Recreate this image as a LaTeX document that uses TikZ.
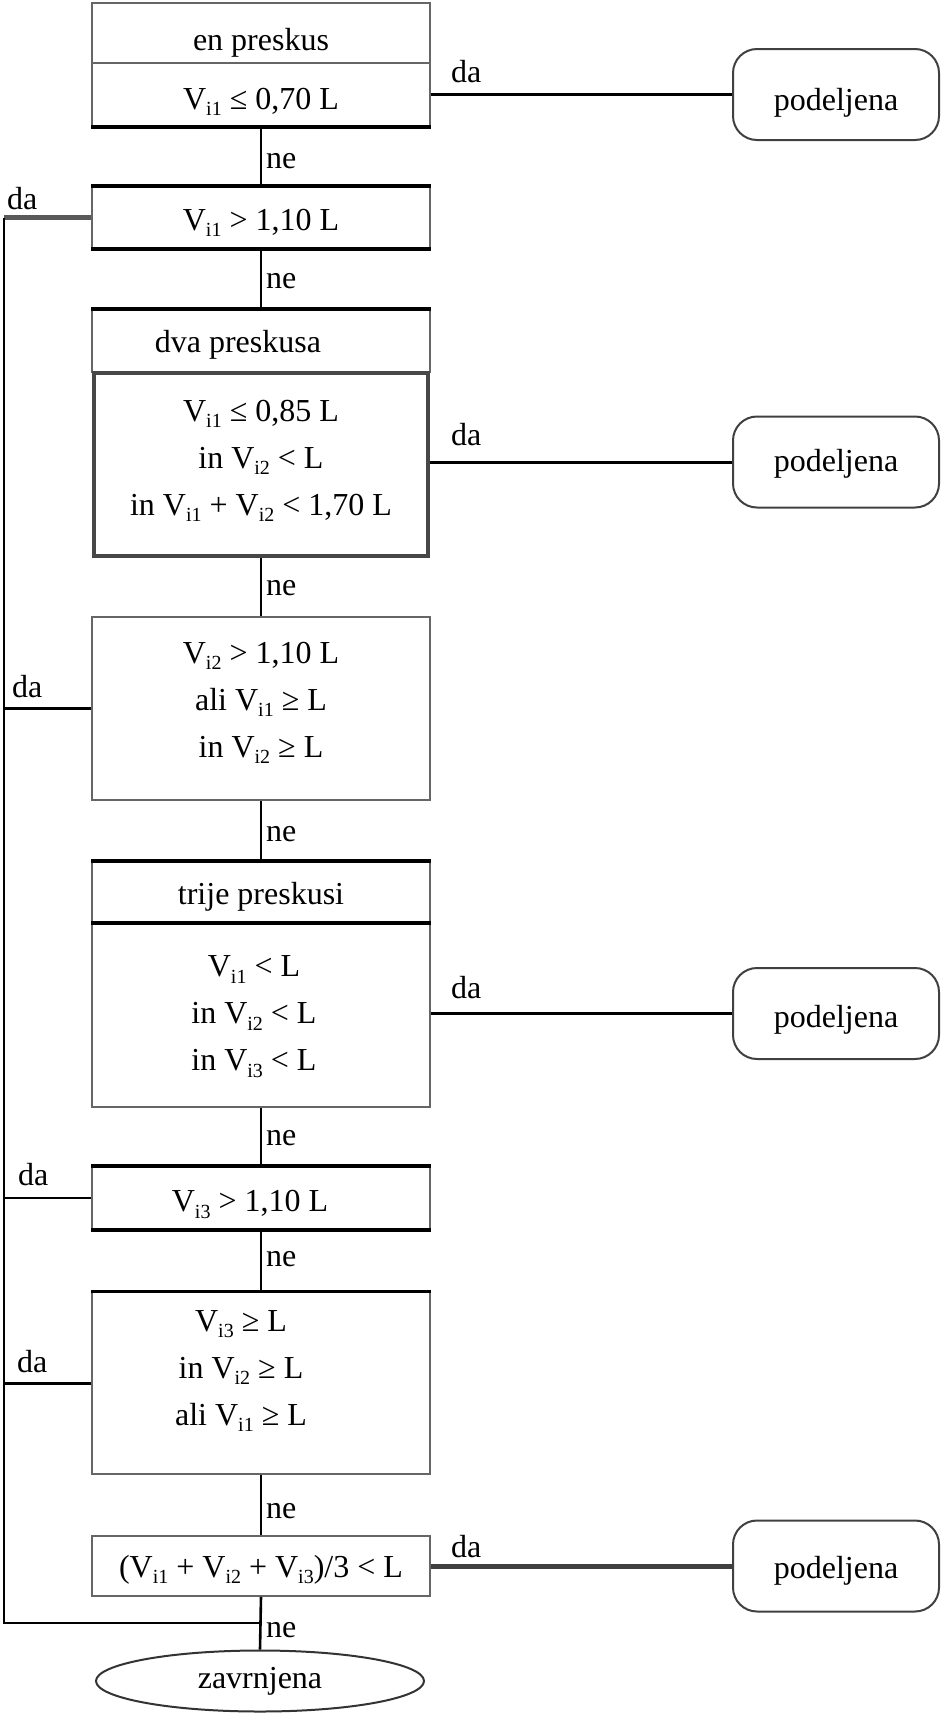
\documentclass[tikz,border=0pt]{standalone}
\usepackage{fontspec}
\setmainfont{Liberation Serif}
\usetikzlibrary{shapes.geometric}
\newcommand{\Vi}[1]{V\raisebox{-0.2em}{\fontsize{20}{20}\selectfont i#1}}
% #1 = how far the text is moved up from the centre of its box
\newcommand{\mylines}[2][0pt]{\raisebox{0pt}[\dimexpr\height-(#1)\relax][\dimexpr\depth+(#1)\relax]{\begin{tabular}{@{}c@{}}#2\end{tabular}}}
\begin{document}
\begin{tikzpicture}[x=1pt,y=-1pt,
  font=\fontsize{32}{47}\selectfont,
  box/.style={draw=black!60, line width=1.6pt, minimum width=338pt, inner sep=0pt, fill=white},
  term/.style={draw=black!75, line width=2pt, rounded corners=24pt, minimum width=206pt, minimum height=91pt, inner sep=0pt},
  wire/.style={line width=2.6pt, black},
  edgeK/.style={line width=4pt, black},
  lbl/.style={inner sep=0pt, anchor=base west}]
\useasboundingbox (0,0) rectangle (943,1714);

% process boxes
\node[box, minimum height=60pt] (h1) at (261,33) {\mylines[-8pt]{en preskus}};
\node[box, minimum height=63pt] (c1) at (261,94.5) {\mylines[-5.5pt]{\Vi1 ≤ 0,70 L}};
\node[box, minimum height=61pt] (b2) at (261,217.5) {\mylines[-3.5pt]{\Vi1 > 1,10 L}};
\node[box, minimum height=62pt] (h3) at (261,341) {\hspace*{-46pt}\mylines[-2pt]{dva preskusa}};
\node[box, minimum height=183pt, minimum width=334pt, draw=black!72, line width=4.5pt] (c3) at (261,464.5) {\mylines[5.5pt]{\Vi1 ≤ 0,85 L\\ in \Vi2 < L\\ in \Vi1 + \Vi2 < 1,70 L}};
\node[box, minimum height=183pt] (b4) at (261,708.5) {\mylines[7.5pt]{\Vi2 > 1,10 L\\ ali \Vi1 ≥ L\\ in \Vi2 ≥ L}};
\node[box, minimum height=60pt] (h5) at (261,892) {\mylines[-3.5pt]{trije preskusi}};
\node[box, minimum height=185pt] (c5) at (261,1014.5) {\hspace*{-14pt}\mylines{\Vi1 < L\\ in \Vi2 < L\\ in \Vi3 < L}};
\node[box, minimum height=62pt] (b6) at (261,1198) {\hspace*{-22pt}\mylines[-4.5pt]{\Vi3 > 1,10 L}};
\node[box, minimum height=182pt] (b7) at (261,1383) {\hspace*{-40pt}\mylines[14pt]{\Vi3 ≥ L\\ in \Vi2 ≥ L\\ ali \Vi1 ≥ L}};
\node[box, minimum height=60pt] (c8) at (261,1566) {\mylines[-2pt]{(\Vi1 + \Vi2 + \Vi3)/3 < L}};
\node[ellipse, draw=black!80, line width=2pt, minimum width=328pt, minimum height=61pt, inner sep=0pt] (end) at (260,1681) {zavrnjena};

% terminals
\node[term] (p1) at (836,94.5) {\mylines[-6.5pt]{podeljena}};
\node[term] (p2) at (836,462) {\mylines{podeljena}};
\node[term] (p3) at (836,1013.5) {\mylines[-4.5pt]{podeljena}};
\node[term] (p4) at (836,1566) {\mylines[-3.5pt]{podeljena}};

% thick edges of boxes
\draw[edgeK] (c1.south west) -- (c1.south east);
\draw[edgeK] (b2.north west) -- (b2.north east);
\draw[edgeK] (b2.south west) -- (b2.south east);
\draw[line width=3.5pt] (h3.north west) -- (h3.north east);
\draw[line width=3.5pt] (h5.north west) -- (h5.north east);
\draw[line width=3.5pt] (h5.south west) -- (h5.south east);
\draw[edgeK] (b6.north west) -- (b6.north east);
\draw[edgeK] (b6.south west) -- (b6.south east);
\draw[line width=3pt] (b7.north west) -- (b7.north east);

% right "da" branches
\draw[wire, line width=3pt] (c1.east) -- (p1.west);
\draw[wire, line width=3pt] (p2.west -| c3.east) -- (p2.west);
\draw[wire, line width=3pt] (p3.west -| c5.east) -- (p3.west);
\draw[line width=5pt, black!75] (c8.east) -- (p4.west);
\node[lbl] (d1) at (451,82) {da};
\node[lbl] (d2) at (451,445) {da};
\node[lbl] (d3) at (451,998) {da};
\node[lbl] (d4) at (451,1557) {da};

% main "ne" flow
\draw[wire] (c1.south) -- (b2.north);
\draw[wire] (b2.south) -- (h3.north);
\draw[wire] (c3.south) -- (b4.north);
\draw[wire] (b4.south) -- (h5.north);
\draw[wire] (c5.south) -- (b6.north);
\draw[wire] (b6.south) -- (b7.north);
\draw[wire] (b7.south) -- (c8.north);
\draw[wire] (c8.south) -- (end.north);
\node[lbl] (n1) at (266,168) {ne};
\node[lbl] (n2) at (266,288) {ne};
\node[lbl] (n3) at (266,595) {ne};
\node[lbl] (n4) at (266,841) {ne};
\node[lbl] (n5) at (266,1145) {ne};
\node[lbl] (n6) at (266,1266) {ne};
\node[lbl] (n7) at (266,1518) {ne};
\node[lbl] (n8) at (266,1637) {ne};

% left "da" rail
\coordinate (rail) at (4,0);
\coordinate (jn) at (261,1623);
\draw[line width=4.5pt, black!65] (b2.west) -- (b2.west -| rail);
\draw[wire] (b4.west) -- (b4.west -| rail);
\draw[line width=1.3pt] (b6.west) -- (b6.west -| rail);
\draw[line width=3pt] (b7.west) -- (b7.west -| rail);
\draw[wire] (b2.west -| rail) -- (rail |- jn) -- (jn);
\node[lbl] (l1) at (7,209) {da};
\node[lbl] (l2) at (12,697) {da};
\node[lbl] (l3) at (18,1185) {da};
\node[lbl] (l4) at (17,1372) {da};
\end{tikzpicture}
\end{document}
